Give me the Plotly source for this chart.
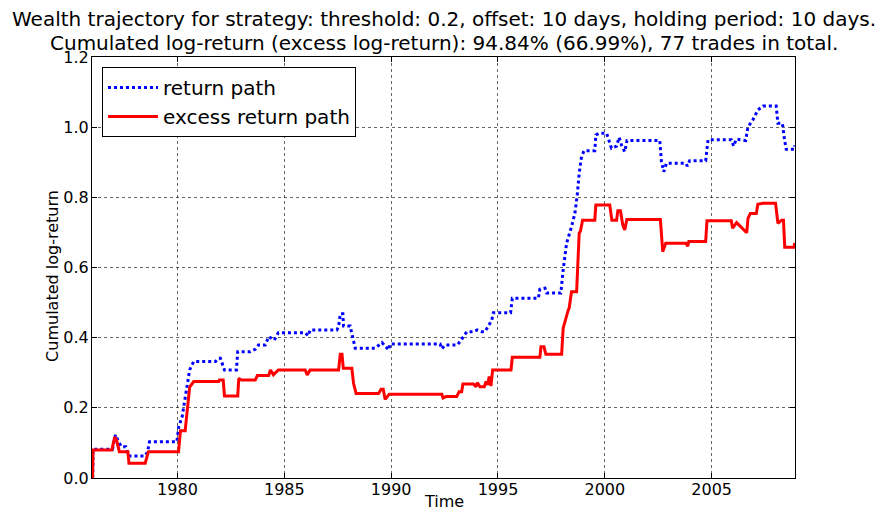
import plotly.graph_objects as go

# Wealth paths (time in fractional years)
ret_time = [
    1976.03, 1976.05, 1976.96, 1977.10, 1977.24, 1977.38, 1977.58, 1977.71, 1978.49, 1978.60,
    1978.69, 1979.97, 1980.06, 1980.22, 1980.42, 1980.57, 1980.76, 1981.78, 1981.92, 1982.01,
    1982.20, 1982.76, 1982.82, 1983.41, 1983.64, 1983.79, 1984.11, 1984.27, 1984.53, 1984.72,
    1985.98, 1986.12, 1986.21, 1987.46, 1987.54, 1987.62, 1987.74, 1987.77, 1988.08, 1988.32,
    1989.25, 1989.57, 1989.89, 1989.95, 1992.29, 1992.37, 1992.52, 1993.10, 1993.27, 1993.54,
    1993.85, 1994.03, 1994.24, 1994.39, 1994.55, 1994.71, 1994.78, 1995.59, 1995.67, 1996.89,
    1996.96, 1997.20, 1997.28, 1997.94, 1998.05, 1998.21, 1998.44, 1998.60, 1998.71, 1998.80,
    1998.91, 1999.03, 1999.53, 1999.58, 1999.77, 2000.08, 2000.31, 2000.55, 2000.67, 2000.78,
    2000.93, 2001.04, 2002.57, 2002.65, 2002.76, 2002.88, 2003.79, 2003.86, 2003.97, 2004.72,
    2004.83, 2005.92, 2006.03, 2006.15, 2006.59, 2006.70, 2006.93, 2007.16, 2007.40, 2008.02,
    2008.10, 2008.31, 2008.41, 2008.49, 2008.86, 2008.88,
]
ret_value = [
    0.000, 0.082, 0.082, 0.123, 0.103, 0.089, 0.089, 0.063, 0.063, 0.075,
    0.103, 0.103, 0.146, 0.175, 0.251, 0.308, 0.332, 0.332, 0.341, 0.341,
    0.308, 0.308, 0.360, 0.360, 0.367, 0.379, 0.379, 0.403, 0.393, 0.414,
    0.414, 0.405, 0.422, 0.422, 0.431, 0.468, 0.468, 0.433, 0.433, 0.370,
    0.370, 0.386, 0.365, 0.382, 0.382, 0.368, 0.379, 0.379, 0.393, 0.417,
    0.417, 0.422, 0.417, 0.417, 0.433, 0.450, 0.471, 0.471, 0.512, 0.512,
    0.538, 0.541, 0.527, 0.527, 0.593, 0.669, 0.716, 0.755, 0.807, 0.869,
    0.916, 0.933, 0.933, 0.978, 0.983, 0.983, 0.940, 0.946, 0.971, 0.949,
    0.930, 0.962, 0.962, 0.902, 0.873, 0.897, 0.897, 0.889, 0.904, 0.904,
    0.964, 0.964, 0.946, 0.966, 0.962, 1.001, 1.021, 1.049, 1.060, 1.060,
    1.011, 1.011, 0.964, 0.937, 0.937, 0.948,
]

excess_time = [
    1976.03, 1976.05, 1976.93, 1977.06, 1977.15, 1977.28, 1977.68, 1977.73, 1978.49, 1978.55,
    1978.64, 1980.05, 1980.14, 1980.36, 1980.57, 1980.76, 1981.93, 1981.96, 1982.14, 1982.20,
    1982.82, 1982.87, 1982.99, 1983.64, 1983.74, 1984.27, 1984.35, 1984.49, 1984.72, 1985.98,
    1986.07, 1986.21, 1987.54, 1987.62, 1987.70, 1987.76, 1988.16, 1988.24, 1988.36, 1989.41,
    1989.53, 1989.63, 1989.72, 1989.91, 1992.37, 1992.43, 1992.57, 1993.07, 1993.18, 1993.30,
    1993.36, 1993.85, 1993.97, 1994.03, 1994.16, 1994.36, 1994.44, 1994.51, 1994.59, 1994.67,
    1994.75, 1995.61, 1995.67, 1996.96, 1997.01, 1997.15, 1997.24, 1997.98, 1998.05, 1998.29,
    1998.33, 1998.44, 1998.68, 1998.80, 1998.86, 1998.96, 1999.53, 1999.58, 2000.23, 2000.33,
    2000.55, 2000.61, 2000.73, 2000.84, 2000.93, 2001.03, 2002.60, 2002.71, 2002.85, 2003.79,
    2003.88, 2003.93, 2004.72, 2004.78, 2005.92, 2005.98, 2006.17, 2006.64, 2006.70, 2006.81,
    2007.09, 2007.16, 2007.40, 2007.99, 2008.10, 2008.27, 2008.36, 2008.42, 2008.86, 2008.88,
]
excess_value = [
    0.000, 0.080, 0.080, 0.117, 0.108, 0.075, 0.075, 0.042, 0.042, 0.054,
    0.075, 0.075, 0.135, 0.135, 0.259, 0.275, 0.275, 0.279, 0.279, 0.234,
    0.234, 0.284, 0.279, 0.279, 0.292, 0.292, 0.308, 0.294, 0.308, 0.308,
    0.294, 0.308, 0.308, 0.353, 0.353, 0.313, 0.313, 0.270, 0.241, 0.241,
    0.253, 0.253, 0.224, 0.239, 0.239, 0.228, 0.232, 0.232, 0.246, 0.246,
    0.268, 0.268, 0.260, 0.272, 0.260, 0.260, 0.275, 0.265, 0.289, 0.262,
    0.308, 0.308, 0.344, 0.344, 0.374, 0.374, 0.353, 0.353, 0.427, 0.479,
    0.484, 0.531, 0.531, 0.698, 0.704, 0.735, 0.735, 0.778, 0.778, 0.735,
    0.735, 0.762, 0.762, 0.721, 0.707, 0.737, 0.737, 0.645, 0.669, 0.669,
    0.661, 0.674, 0.674, 0.733, 0.733, 0.712, 0.728, 0.699, 0.740, 0.754,
    0.754, 0.780, 0.783, 0.783, 0.726, 0.735, 0.735, 0.658, 0.658, 0.670,
]

x_ticks = [1980, 1985, 1990, 1995, 2000, 2005]
y_ticks = [0.0, 0.2, 0.4, 0.6, 0.8, 1.0, 1.2]

title_lines = [
    "Wealth trajectory for strategy: threshold: 0.2, offset: 10 days, holding period: 10 days.",
    "Cumulated log-return (excess log-return): 94.84% (66.99%), 77 trades in total.",
]

FONT = "DejaVu Sans, Bitstream Vera Sans, sans-serif"

# the page body keeps its default 8px margin, so the figure is sized to fit inside the window
fig = go.Figure()

fig.add_trace(go.Scatter(
    x=ret_time, y=ret_value,
    mode="lines",
    name="return path",
    line=dict(color="#0000ff", width=3, dash="3px,3px"),
))

fig.add_trace(go.Scatter(
    x=excess_time, y=excess_value,
    mode="lines",
    name="excess return path",
    line=dict(color="#ff0000", width=3),
))

axis_common = dict(
    showline=True,
    linecolor="black",
    linewidth=1,
    mirror="allticks",
    ticks="inside",
    ticklen=5,
    tickcolor="black",
    showgrid=True,
    gridcolor="rgba(0,0,0,0.6)",
    gridwidth=1,
    griddash="dot",
    zeroline=False,
    automargin=False,
    tickfont=dict(size=16, color="black", family=FONT),
)

fig.update_layout(
    width=875,
    height=502,
    plot_bgcolor="white",
    paper_bgcolor="white",
    font=dict(family=FONT, color="black", size=16),
    margin=dict(l=84, r=88, t=49, b=32),
    showlegend=True,
    legend=dict(
        x=0.0142,
        y=0.976,
        xanchor="left",
        yanchor="top",
        bgcolor="white",
        bordercolor="black",
        borderwidth=1,
        font=dict(size=20, family=FONT, color="black"),
        itemwidth=50,
        tracegroupgap=0,
    ),
)

for line, ypos in zip(title_lines, [1.0903, 1.0333]):
    fig.add_annotation(
        text=line,
        xref="paper", yref="paper",
        x=0.5, y=ypos,
        xanchor="center", yanchor="middle",
        showarrow=False,
        font=dict(size=20, family=FONT, color="black"),
    )

# axis titles as annotations to place them like the reference
fig.add_annotation(
    text="Time",
    xref="paper", yref="paper",
    x=0.5, y=-0.056,
    xanchor="center", yanchor="middle",
    showarrow=False,
    font=dict(size=16, family=FONT, color="black"),
)
fig.add_annotation(
    text="Cumulated log-return",
    xref="paper", yref="paper",
    x=-0.0555, y=0.48,
    xanchor="center", yanchor="middle",
    textangle=-90,
    showarrow=False,
    font=dict(size=16, family=FONT, color="black"),
)

fig.update_xaxes(
    range=[1976.0, 2008.9],
    tickvals=x_ticks,
    ticktext=[str(t) for t in x_ticks],
    ticklabelstandoff=-3,
    **axis_common,
)
fig.update_yaxes(
    range=[0, 1.2],
    tickvals=y_ticks,
    tickformat=".1f",
    ticklabelstandoff=-1,
    **axis_common,
)

fig.write_html("out.html")
